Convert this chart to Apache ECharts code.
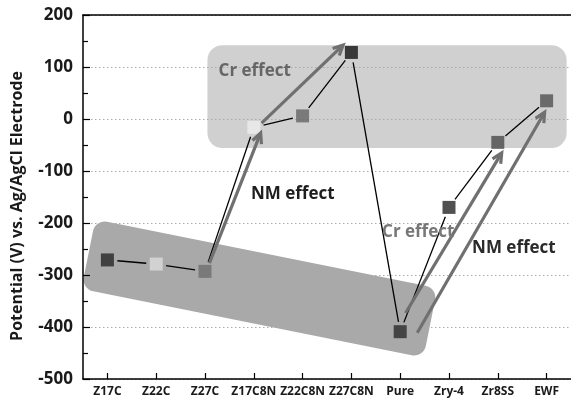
<!DOCTYPE html>
<html>
<head>
<meta charset="utf-8">
<script src="https://cdn.jsdelivr.net/npm/echarts@6/dist/echarts.min.js"></script>
<style>
  html, body { margin: 0; padding: 0; background: #ffffff; }
  #chart { width: 571px; height: 403px; }
</style>
</head>
<body>
<div id="chart"></div>
<script>
// Alloy / material categories along the x axis
const categories = ['Z17C', 'Z22C', 'Z27C', 'Z17C8N', 'Z22C8N', 'Z27C8N', 'Pure', 'Zry-4', 'Zr8SS', 'EWF'];
// Measured potential for each material (mV vs. Ag/AgCl)
const potentials = [-271, -279, -293, -16, 6, 128, -409, -170, -45, 35];
// Fill tone of each square marker
const markerColors = ['#262626', '#dcdcdc', '#6e6e6e', '#ededed', '#646464', '#111111', '#2b2b2b', '#262626', '#4a4a4a', '#505050'];

// Y axis range and step
const yMin = -500, yMax = 200, yStep = 100;

// Effect arrows, in (category position, potential) units
const arrowFrom = [[2.09, -277], [3.16, -8], [6.11, -373], [6.35, -411]];
const arrowTo   = [[3.14, -27], [4.83, 142], [8.08, -65], [8.96, 13]];

// Effect captions
const noteText  = ['Cr effect', 'NM effect', 'Cr effect', 'NM effect'];
const notePos   = [[3.02, 92], [3.80, -144], [6.37, -217], [8.33, -248]];
const noteColor = ['#666666', '#1e1e1e', '#777777', '#2a2a2a'];

// Shaded groupings
const upperBox = [[2.05, 142], [9.41, -56]];          // corners
const lowerBand = [[-0.39, -260], [6.62, -392]];      // centre line ends

const FONT = '"Open Sans", "DejaVu Sans", sans-serif';

const chart = echarts.init(document.getElementById('chart'), null, { renderer: 'canvas' });

const option = {
  animation: false,
  backgroundColor: '#ffffff',
  grid: { left: 83, right: -4, top: 15, bottom: 24, containLabel: false },
  xAxis: [
    {
      type: 'category',
      data: categories,
      boundaryGap: true,
      axisLine: { show: true, onZero: false, lineStyle: { color: '#000', width: 1.5 } },
      axisTick: { show: true, inside: true, alignWithLabel: true, interval: 0, length: 6, lineStyle: { color: '#000', width: 1.2 } },
      axisLabel: { interval: 0, color: '#1a1a1a', fontFamily: FONT, fontWeight: 'bold', fontSize: 12, margin: 7 },
      splitLine: { show: false }
    },
    {
      // helper scale for annotations; its line draws the top border
      type: 'value',
      position: 'top',
      min: -0.5, max: 9.5,
      axisLine: { show: true, onZero: false, lineStyle: { color: '#000', width: 1.5 } },
      axisTick: { show: false },
      axisLabel: { show: false },
      splitLine: { show: false }
    }
  ],
  yAxis: {
    type: 'value',
    min: yMin, max: yMax, interval: yStep,
    axisLine: { show: true, onZero: false, lineStyle: { color: '#000', width: 1.5 } },
    axisTick: { show: true, inside: true, length: 7, lineStyle: { color: '#000', width: 1.2 } },
    minorTick: { show: true, splitNumber: 2, length: 5, lineStyle: { color: '#000', width: 1.2 } },
    axisLabel: { color: '#1a1a1a', fontFamily: FONT, fontWeight: 'bold', fontSize: 17, margin: 10 },
    splitLine: { show: true, lineStyle: { color: '#aaaaaa', type: [1.5, 2.5], width: 1 } }
  },
  series: [
    {
      // thin connectors between consecutive points, trimmed near the markers
      type: 'custom',
      xAxisIndex: 0,
      data: potentials.map((v, i) => [i, v]),
      z: 3,
      renderItem: function (params, api) {
        const i = params.dataIndex;
        if (i === 0) return null;
        const p0 = api.coord([i - 1, potentials[i - 1]]);
        const p1 = api.coord([i, potentials[i]]);
        const dx = p1[0] - p0[0], dy = p1[1] - p0[1];
        const len = Math.sqrt(dx * dx + dy * dy);
        const gap = 10;
        const ux = dx / len, uy = dy / len;
        return {
          type: 'line',
          shape: {
            x1: p0[0] + ux * gap, y1: p0[1] + uy * gap,
            x2: p1[0] - ux * gap, y2: p1[1] - uy * gap
          },
          style: { stroke: '#000', lineWidth: 1.3 }
        };
      }
    },
    {
      type: 'scatter',
      xAxisIndex: 0,
      symbol: 'rect',
      symbolSize: 13,
      z: 5,
      data: potentials.map((v, i) => ({ value: [i, v], itemStyle: { color: markerColors[i] } })),
      emphasis: { disabled: true }
    }
  ]
};

chart.setOption(option);

function px(pt) {
  return chart.convertToPixel({ xAxisIndex: 1, yAxisIndex: 0 }, pt);
}

const graphics = [];

// upper rounded box
(function () {
  const a = px(upperBox[0]), b = px(upperBox[1]);
  graphics.push({
    type: 'rect', z: -10,
    shape: { x: a[0], y: a[1], width: b[0] - a[0], height: b[1] - a[1], r: 15 },
    style: { fill: '#d0d0d0' }
  });
})();

// lower slanted band
(function () {
  const a = px(lowerBand[0]), b = px(lowerBand[1]);
  const dx = b[0] - a[0], dy = b[1] - a[1];
  const len = Math.sqrt(dx * dx + dy * dy);
  const thick = 71;
  graphics.push({
    type: 'rect', z: -10,
    x: (a[0] + b[0]) / 2, y: (a[1] + b[1]) / 2,
    rotation: -Math.atan2(dy, dx),
    shape: { x: -len / 2, y: -thick / 2, width: len, height: thick, r: 12 },
    style: { fill: '#a9a9a9' }
  });
})();

// arrows
for (let k = 0; k < arrowFrom.length; k++) {
  const a = px(arrowFrom[k]), b = px(arrowTo[k]);
  const ang = Math.atan2(b[1] - a[1], b[0] - a[0]);
  const hl = 11, spread = 0.45;
  const l = [b[0] - hl * Math.cos(ang - spread), b[1] - hl * Math.sin(ang - spread)];
  const r = [b[0] - hl * Math.cos(ang + spread), b[1] - hl * Math.sin(ang + spread)];
  graphics.push({
    type: 'line', z: 20,
    shape: { x1: a[0], y1: a[1], x2: b[0] - 1.5 * Math.cos(ang), y2: b[1] - 1.5 * Math.sin(ang) },
    style: { stroke: '#707070', lineWidth: 3.2 }
  });
  graphics.push({
    type: 'polyline', z: 20,
    shape: { points: [l, b, r] },
    style: { stroke: '#707070', lineWidth: 3.2, fill: null, lineJoin: 'miter' }
  });
}

// captions
for (let k = 0; k < noteText.length; k++) {
  const p = px(notePos[k]);
  graphics.push({
    type: 'text', z: 30,
    x: p[0], y: p[1],
    style: {
      text: noteText[k], fill: noteColor[k],
      font: 'bold 17px ' + FONT,
      align: 'center', verticalAlign: 'middle'
    }
  });
}

// y axis title
graphics.push({
  type: 'text', z: 30,
  x: 17, y: 206,
  rotation: Math.PI / 2,
  style: {
    text: 'Potential (V) vs. Ag/AgCl Electrode', fill: '#1a1a1a',
    font: 'bold 16px ' + FONT,
    align: 'center', verticalAlign: 'middle'
  }
});

chart.setOption({ graphic: graphics });
</script>
</body>
</html>
